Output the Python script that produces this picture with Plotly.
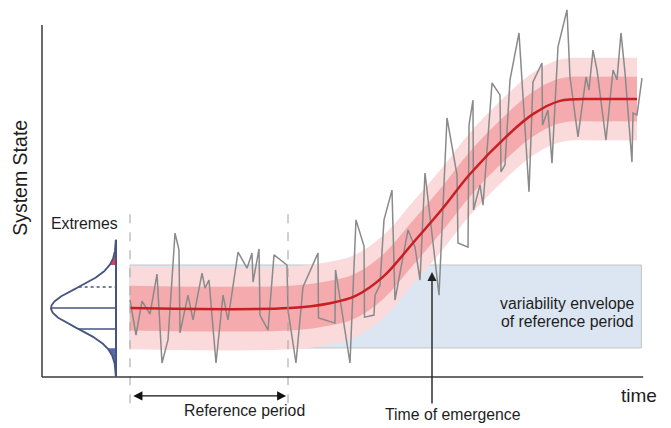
import numpy as np
import plotly.graph_objects as go

# ---- data (time in arbitrary units, system state in arbitrary units) ----
mean_time = [14.67, 41.33, 48.0, 52.17, 56.83, 61.83, 66.83, 71.33, 77.5, 81.83, 86.33, 93.0, 99.17]
mean_state = [1.97, 1.97, 2.11, 2.31, 2.86, 3.83, 4.83, 5.80, 6.89, 7.51, 7.89, 7.94, 7.94]

obs_time = [14.67, 15.67, 16.67, 18.0, 19.17, 20.0, 21.0, 22.17, 22.83, 23.0, 24.33, 25.17, 26.67, 27.17,
            27.83, 29.0, 30.17, 31.0, 32.67, 34.17, 35.0, 35.17, 36.17, 36.33, 37.67, 38.67, 40.83, 41.0,
            42.33, 43.5, 46.0, 46.08, 48.83, 48.92, 51.33, 52.33, 53.67, 53.75, 55.33, 55.5, 56.33, 57.0,
            58.33, 58.83, 61.0, 62.17, 63.0, 63.83, 66.17, 67.5, 69.17, 69.33, 71.0, 71.17, 71.83, 71.92,
            73.0, 73.5, 75.0, 76.33, 76.5, 77.17, 78.0, 79.5, 81.17, 81.83, 83.33, 83.42, 84.33, 85.0,
            86.0, 87.5, 88.0, 89.33, 90.67, 91.17, 91.83, 92.5, 94.0, 95.17, 95.83, 96.5, 97.17, 98.33,
            98.5, 99.17, 100.0]
obs_state = [2.20, 1.20, 2.17, 1.80, 2.94, 0.40, 1.06, 4.11, 3.63, 1.26, 2.34, 1.63, 2.97, 2.54,
             2.77, 0.40, 2.34, 1.63, 3.57, 3.11, 3.54, 2.71, 3.66, 1.77, 1.34, 3.49, 3.20, 1.91,
             0.40, 2.57, 3.54, 1.69, 1.54, 3.06, 0.40, 4.49, 3.74, 1.71, 1.77, 2.34, 2.63, 4.49,
             5.34, 2.20, 4.20, 3.71, 2.77, 5.83, 2.34, 7.40, 5.77, 3.83, 3.71, 7.20, 7.91, 4.77,
             5.49, 4.91, 8.40, 8.06, 5.86, 6.06, 8.49, 9.83, 5.29, 8.43, 8.97, 7.20, 7.63, 6.11,
             9.43, 10.49, 8.57, 6.86, 8.57, 8.20, 9.34, 8.77, 6.77, 8.77, 8.49, 9.83, 8.69, 6.14,
             7.54, 7.49, 8.54]

band_inner = 0.64                   # half-width of inner band
band_outer = 1.18                   # half-width of outer band
ref_period = [14.67, 41.0]          # start / end of reference period
envelope = [0.83, 3.20]             # variability envelope of reference period
envelope_end = 99.9
emergence_time = 65.0

dist_mean = 1.97                    # reference distribution (normal)
dist_sd = 0.57
dist_half_range = 1.95
dist_base = 12.33                   # time position of the distribution baseline
dist_height = 10.83                 # peak height (drawn leftwards)
dist_lines = [-0.6, 0.0, 0.6]       # horizontal marks

# ---- colours ----
C_OUT = "#fadadb"
C_IN = "#f5abad"
C_RED = "#c81e24"
C_GRAY = "#8a8a8a"
C_BLUE = "#dce6f2"
C_DIST = "#46557f"
FONT = "Liberation Sans, Arial, sans-serif"

fig = go.Figure()

# envelope rectangle
fig.add_shape(type="rect", x0=ref_period[0], x1=envelope_end, y0=envelope[0], y1=envelope[1],
              fillcolor=C_BLUE, line=dict(color="#c4c4c4", width=1), layer="below")

ms = np.array(mean_state)
spl = dict(shape="spline", smoothing=1.0, width=0)

def band(half, color):
    fig.add_trace(go.Scatter(x=mean_time, y=ms - half, mode="lines", line=dict(color=color, **spl),
                             hoverinfo="skip", showlegend=False))
    fig.add_trace(go.Scatter(x=mean_time, y=ms + half, mode="lines", line=dict(color=color, **spl),
                             fill="tonexty", fillcolor=color, hoverinfo="skip", showlegend=False))

band(band_outer, C_OUT)
band(band_inner, C_IN)

# observed
fig.add_trace(go.Scatter(x=obs_time, y=obs_state, mode="lines",
                         line=dict(color=C_GRAY, width=1.5), showlegend=False))
# mean
fig.add_trace(go.Scatter(x=mean_time, y=mean_state, mode="lines",
                         line=dict(color=C_RED, width=2.5, shape="spline", smoothing=1.0),
                         showlegend=False))

# distribution
lo = dist_mean - dist_half_range
hi = dist_mean + dist_half_range
vv = np.linspace(lo, hi, 240)
pdf = np.exp(-0.5 * ((vv - dist_mean) / dist_sd) ** 2)
tt = dist_base - dist_height * pdf

def tail(mask, color):
    v = vv[mask]
    t = tt[mask]
    xs = list(t) + [dist_base] * len(v)
    ys = list(v) + list(v[::-1])
    fig.add_trace(go.Scatter(x=xs, y=ys, fill="toself", fillcolor=color, mode="none",
                             hoverinfo="skip", showlegend=False))

tail(vv >= envelope[1], "#e0414d")
tail(vv <= envelope[0], "#5a67ad")

fig.add_trace(go.Scatter(x=tt, y=vv, mode="lines", line=dict(color=C_DIST, width=1.8),
                         hoverinfo="skip", showlegend=False))
fig.add_trace(go.Scatter(x=[dist_base, dist_base], y=[lo, hi], mode="lines",
                         line=dict(color=C_DIST, width=2), hoverinfo="skip", showlegend=False))
for k in dist_lines:
    yv = dist_mean + k
    xv = dist_base - dist_height * np.exp(-0.5 * (k / dist_sd) ** 2)
    fig.add_trace(go.Scatter(x=[xv, dist_base], y=[yv, yv], mode="lines",
                             line=dict(color=C_DIST, width=1.5, dash="dot" if k > 0 else "solid"),
                             hoverinfo="skip", showlegend=False))

# reference-period dashed lines
for xr in ref_period:
    fig.add_shape(type="line", x0=xr, x1=xr, y0=-0.75, y1=4.77,
                  line=dict(color="#a0a0a0", width=1, dash="dash"), layer="above")

# axes
fig.add_shape(type="line", x0=0, x1=0, y0=0, y1=10.06, line=dict(color="#3a3a3a", width=1.5))
fig.add_shape(type="line", x0=0, x1=100.2, y0=0, y1=0, line=dict(color="#3a3a3a", width=1.5))

# arrows
fig.add_annotation(x=ref_period[1] - 0.3, y=-0.54, ax=ref_period[0] + 0.3, ay=-0.54,
                   xref="x", yref="y", axref="x", ayref="y", text="", showarrow=True,
                   arrowhead=2, arrowside="end+start", arrowsize=1.3, arrowwidth=1.4,
                   arrowcolor="#111")
fig.add_annotation(x=emergence_time, y=3.0, ax=emergence_time, ay=-0.8,
                   xref="x", yref="y", axref="x", ayref="y", text="", showarrow=True,
                   arrowhead=2, arrowsize=1.3, arrowwidth=1.4, arrowcolor="#222")

def label(x, y, text, size=15.8, **kw):
    fig.add_annotation(x=x, y=y, xref="x", yref="y", text=text, showarrow=False,
                       font=dict(family=FONT, size=size, color="#1e1e1e"), **kw)

label(33.67, -0.97, "Reference period")
label(68.42, -1.06, "Time of emergence")
label(87.5, 2.09, "variability envelope")
label(87.5, 1.60, "of reference period")
label(7.0, 4.4, "Extremes")
label(99.58, -0.54, "time", size=19)
label(-3.67, 5.69, "System State", size=19.5, textangle=-90)

fig.update_layout(
    width=671, height=428,
    margin=dict(l=0, r=0, t=0, b=0),
    paper_bgcolor="white", plot_bgcolor="white",
    xaxis=dict(range=[-7.0, 104.833], visible=False, fixedrange=True),
    yaxis=dict(range=[-1.457, 10.771], visible=False, fixedrange=True),
    showlegend=False,
)
fig.write_html("out.html", config={"displayModeBar": False},
               post_script="document.body.style.margin='0';")
